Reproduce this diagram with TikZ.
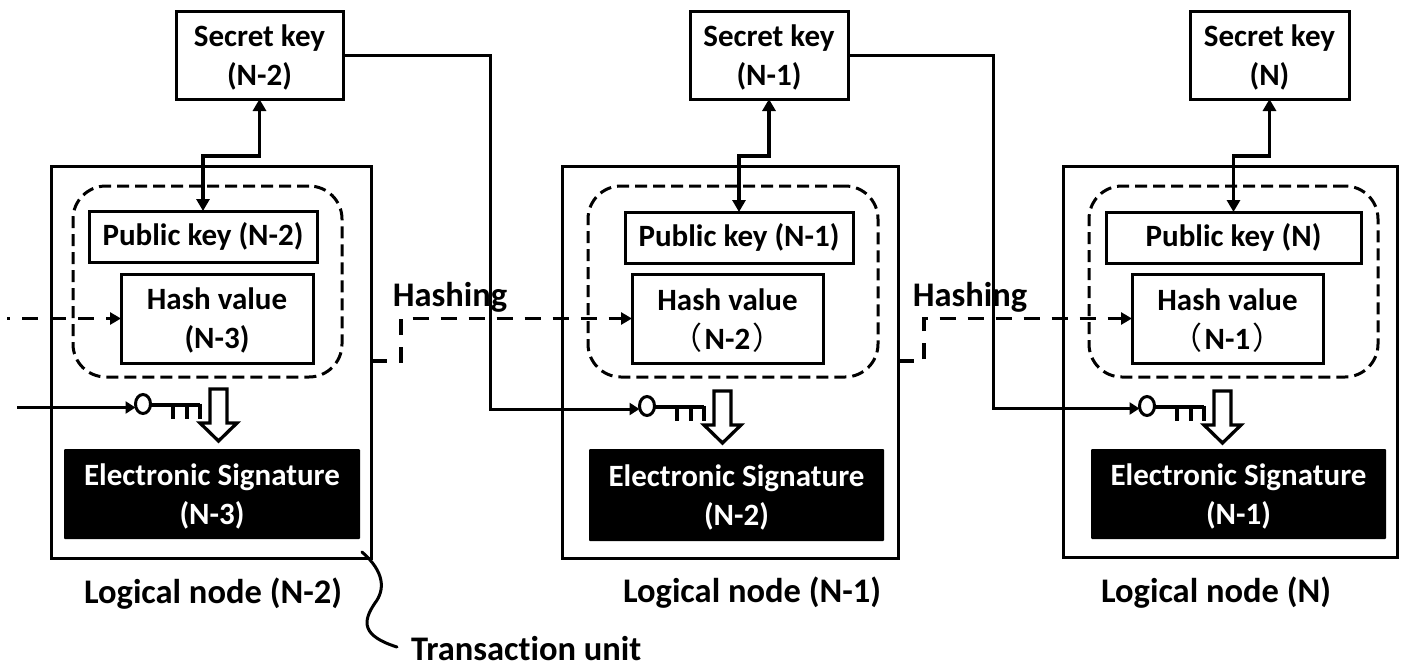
\documentclass[tikz,border=0pt]{standalone}
\usepackage{fontspec}
\setmainfont[Ligatures=NoCommon]{Carlito}
\newfontfamily\cjkparen{Noto Sans CJK SC}
\usetikzlibrary{arrows.meta,calc,shapes.geometric}
\newcommand{\wideopen}{{\cjkparen\mdseries （}\kern2pt}
\newcommand{\wideclose}{\kern2pt{\cjkparen\mdseries ）}}
\tikzset{
  x=1pt,y=-1pt,
  thinbox/.style={draw=black,line width=3pt,inner sep=0pt,outer sep=0pt,align=center,
    font=\fontsize{31}{39}\selectfont\bfseries},
  twolines/.style={text height=65pt},
  blackbox/.style={fill=black,inner sep=0pt,outer sep=0pt,align=center,text=white,rounded corners=1pt,
    font=\fontsize{31}{39}\selectfont\bfseries},
  groupbox/.style={draw=black,line width=3pt,rounded corners=33pt,dash pattern=on 12pt off 6pt,inner sep=0pt,outer sep=0pt},
  caption/.style={inner sep=0pt,outer sep=0pt,font=\fontsize{34.5}{36}\selectfont\bfseries},
  hashlink/.style={draw=black,line width=3.2pt,dash pattern=on 16pt off 12pt,-{Triangle[length=11pt,width=12pt]}},
  keyin/.style={draw=black,line width=3pt,-{Triangle[length=10pt,width=12pt]}},
  both/.style={draw=black,line width=3.4pt,{Triangle[length=12pt,width=13pt]}-{Triangle[length=12pt,width=13pt]}},
  keyhead/.style={draw=black,line width=3pt,ellipse,minimum width=15pt,minimum height=19pt,inner sep=0pt,outer sep=0pt},
}
\newcommand{\keyglyph}[3]{%
  \begin{scope}[xshift=#2pt,yshift=-#3pt]
    \node[keyhead] (#1) at (143,404) {};
    \draw[line width=3.4pt] (#1.east |- 0,405) -- (200,405);
    \draw[line width=4pt] (173,405) -- (173,419);
    \draw[line width=4pt] (187,405) -- (187,419);
    \draw[line width=4pt] (200,403.5) -- (200,419);
    \draw[line width=3.3pt,fill=white,miter limit=10] (210,389) -- (227,389) -- (227,423) -- (237,423)
      -- (218.5,441) -- (200,423) -- (210,423) -- cycle;
  \end{scope}}
\begin{document}
\begin{tikzpicture}
\useasboundingbox (0,0) rectangle (1406,667);
% secret keys
\node[thinbox,twolines,minimum width=167pt,minimum height=88pt] (s1) at (259.5,55) {Secret key\\(N-2)};
\node[thinbox,twolines,minimum width=158pt,minimum height=88pt] (s2) at (769,55) {Secret key\\(N-1)};
\node[thinbox,twolines,minimum width=159pt,minimum height=88pt] (s3) at (1269.5,55) {Secret key\\(N)};
% logical nodes
\node[thinbox,minimum width=320pt,minimum height=392pt] (l1) at (211,362) {};
\node[thinbox,minimum width=336pt,minimum height=392pt] (l2) at (730,362) {};
\node[thinbox,minimum width=334pt,minimum height=391pt] (l3) at (1230,361.5) {};
% dashed groups
\node[groupbox,minimum width=269pt,minimum height=191pt] (g1) at (207.5,281.5) {};
\node[groupbox,minimum width=290pt,minimum height=191pt] (g2) at (733,281.5) {};
\node[groupbox,minimum width=289pt,minimum height=191pt] (g3) at (1233.5,281.5) {};
% public keys
\node[thinbox,minimum width=228pt,minimum height=51pt] (p1) at (203,236.5) {Public key (N-2)};
\node[thinbox,minimum width=228pt,minimum height=51pt] (p2) at (739,237.5) {Public key (N-1)};
\node[thinbox,minimum width=255pt,minimum height=51pt] (p3) at (1233.5,237.5) {Public key (N)};
% hash values
\node[thinbox,twolines,minimum width=192pt,minimum height=89pt] (h1) at (217,318.5) {Hash value\\(N-3)};
\node[thinbox,twolines,minimum width=191pt,minimum height=89pt] (h2) at (727.5,318.5) {Hash value\\\wideopen N-2\wideclose};
\node[thinbox,twolines,minimum width=191pt,minimum height=89pt] (h3) at (1227.5,318.5) {Hash value\\\wideopen N-1\wideclose};
% signatures
\node[blackbox,twolines,minimum width=296pt,minimum height=90pt] (e1) at (212,494) {Electronic Signature\\(N-3)};
\node[blackbox,twolines,minimum width=295pt,minimum height=92pt] (e2) at (736.5,495) {Electronic Signature\\(N-2)};
\node[blackbox,twolines,minimum width=295pt,minimum height=90pt] (e3) at (1238.5,494) {Electronic Signature\\(N-1)};
% keys
\keyglyph{k1}{0}{0}
\keyglyph{k2}{504}{2}
\keyglyph{k3}{1004}{2}
% secret <-> public
\coordinate (m1) at (230,156);
\path[both] (s1.south) -- (s1.south |- m1) -- (p1.north |- m1) -- (p1.north);
\path[both] (s2.south) -- (s2.south |- m1) -- (p2.north |- m1) -- (p2.north);
\path[both] (s3.south) -- (s3.south |- m1) -- (p3.north |- m1) -- (p3.north);
% secret -> next signing key
\coordinate (in1) at (17,407.5);
\coordinate (c1) at (490,409);
\coordinate (c2) at (993,408.5);
\path[keyin] (in1) -- (k1.west |- in1);
\path[keyin] (s1.east) -- (c1 |- s1.east) -- (c1) -- (k2.west |- c1);
\path[keyin] (s2.east) -- (c2 |- s2.east) -- (c2) -- (k3.west |- c2);
% hashing
\coordinate (d0) at (7,318.5);
\coordinate (d1) at (401,361);
\coordinate (d2) at (924,361);
\path[hashlink,dash phase=13pt] (d0) -- (h1.west);
\path[hashlink] (l1.east |- d1) -- (d1) -- (d1 |- h2.west) -- (h2.west);
\path[hashlink] (l2.east |- d2) -- (d2) -- (d2 |- h3.west) -- (h3.west);
\node[caption] (t1) at (450,297) {Hashing};
\node[caption] (t2) at (970,297) {Hashing};
% captions
\node[caption] (n1) at (213,594) {Logical node (N-2)};
\node[caption] (n2) at (752,593) {Logical node (N-1)};
\node[caption] (n3) at (1216,593) {Logical node (N)};
\node[caption,anchor=west] (tu) at (411,649) {Transaction unit};
\coordinate (u0) at (362,552);
\coordinate (u1) at (397,647);
\draw[line width=3pt,line cap=round] (u0) .. controls (385,572) and (385,590) .. (375,603)
  .. controls (362,622) and (362,636) .. (u1);
\end{tikzpicture}
\end{document}
